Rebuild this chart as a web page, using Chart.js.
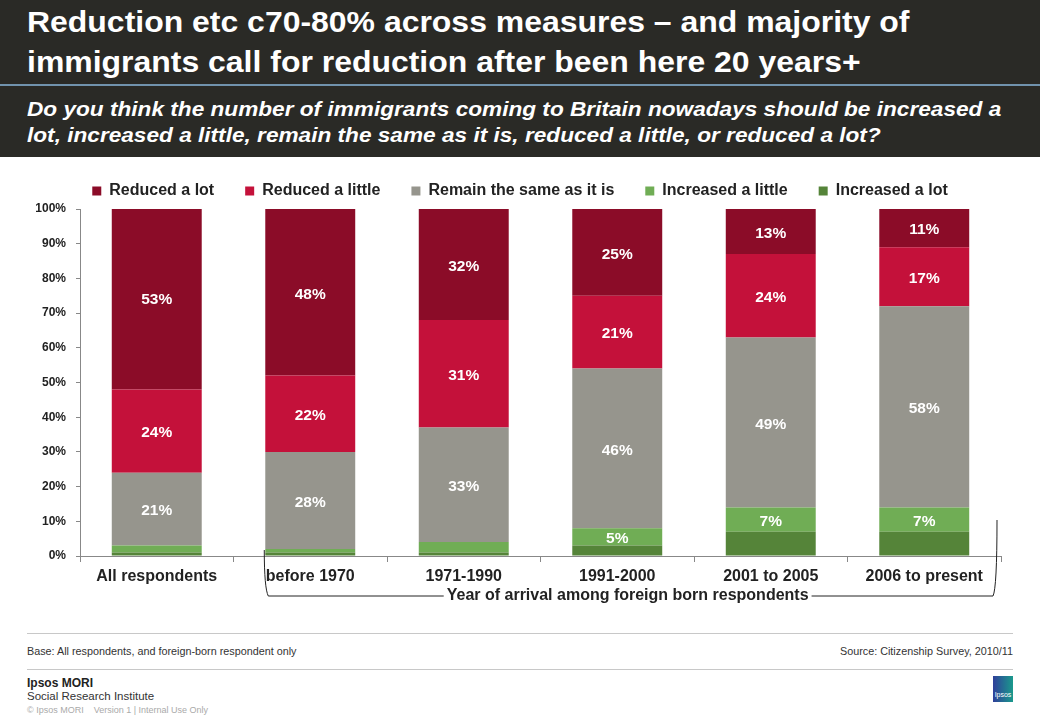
<!DOCTYPE html>
<html>
<head>
<meta charset="utf-8">
<script src="https://cdn.jsdelivr.net/npm/chart.js@4.4.1/dist/chart.umd.min.js"></script>
<style>
  html, body { margin:0; padding:0; background:#fff; }
  body { width:1040px; height:720px; position:relative; overflow:hidden; font-family:'Liberation Sans', Arial, sans-serif; }
  #hdr { position:absolute; left:0; top:0; width:1040px; height:157px; background:#2a2a26; }
  #hline { position:absolute; left:0; top:84px; width:1040px; height:2px; background:#7193ad; }
  #title { position:absolute; left:27px; top:2px; color:#fff; font-weight:bold; font-size:29.5px; line-height:40px; white-space:nowrap; transform:scaleX(1.083); transform-origin:0 0; }
  #sub { position:absolute; left:27px; top:96px; color:#fff; font-weight:bold; font-style:italic; font-size:20.9px; line-height:26px; white-space:nowrap; transform:scaleX(1.083); transform-origin:0 0; }
  #wrap { position:absolute; left:0; top:152px; width:1040px; height:468px; }
  .rule { position:absolute; left:27px; width:986px; height:1px; background:#c8c8c8; }
  #base { position:absolute; left:27px; top:645px; font-size:10.8px; color:#333; }
  #src { position:absolute; right:27px; top:645px; font-size:10.8px; color:#333; }
  #ipsos { position:absolute; left:27px; top:676px; font-size:12px; font-weight:bold; color:#222; }
  #sri { position:absolute; left:27px; top:690px; font-size:11.5px; color:#333; }
  #copy { position:absolute; left:27px; top:705px; font-size:9px; color:#aaa; white-space:pre; }
  #logo { position:absolute; left:993px; top:676px; width:20px; height:26px; background:linear-gradient(90deg,#2f3f9a,#1a9a8c); color:#fff; font-size:7px; text-align:center; line-height:38px; }
</style>
</head>
<body>
<div id="hdr"></div>
<div id="hline"></div>
<div id="title">Reduction etc c70-80% across measures – and majority of<br>immigrants call for reduction after been here 20 years+</div>
<div id="sub">Do you think the number of immigrants coming to Britain nowadays should be increased a<br>lot, increased a little, remain the same as it is, reduced a little, or reduced a lot?</div>
<div id="wrap"><canvas id="c"></canvas></div>
<div class="rule" style="top:633px"></div>
<div id="base">Base: All respondents, and foreign-born respondent only</div>
<div id="src">Source: Citizenship Survey, 2010/11</div>
<div class="rule" style="top:669px"></div>
<div id="ipsos">Ipsos MORI</div>
<div id="sri">Social Research Institute</div>
<div id="copy">© Ipsos MORI    Version 1 | Internal Use Only</div>
<div id="logo">Ipsos</div>
<script>
const categories = ['All respondents', 'before 1970', '1971-1990', '1991-2000', '2001 to 2005', '2006 to present'];
const increasedALot    = [1, 1, 1, 3, 7, 7];
const increasedALittle = [2, 1, 3, 5, 7, 7];
const remainSame       = [21, 28, 33, 46, 49, 58];
const reducedALittle   = [24, 22, 31, 21, 24, 17];
const reducedALot      = [53, 48, 32, 25, 13, 11];
const yTicks = [0, 10, 20, 30, 40, 50, 60, 70, 80, 90, 100];
const groupLabel = 'Year of arrival among foreign born respondents';

const FONT = "'Liberation Sans', Arial, sans-serif";

const valueLabels = {
  id: 'valueLabels',
  afterDatasetsDraw(chart) {
    const ctx = chart.ctx;
    ctx.save();
    ctx.font = 'bold 15.5px ' + FONT;
    ctx.fillStyle = '#ffffff';
    ctx.textAlign = 'center';
    ctx.textBaseline = 'middle';
    chart.data.datasets.forEach((ds, i) => {
      if (ds.noLabel) return;
      const meta = chart.getDatasetMeta(i);
      meta.data.forEach((el, j) => {
        const v = ds.data[j];
        if (v < 5) return;
        const p = el.getProps(['x', 'y', 'base'], true);
        ctx.fillText(v + '%', p.x, (p.y + p.base) / 2 + 2);
      });
    });
    ctx.restore();
  }
};

const bracket = {
  id: 'bracket',
  afterDraw(chart) {
    const ctx = chart.ctx;
    const xs = chart.scales.x;
    const half = xs.getPixelForValue(1) - xs.getPixelForValue(0);
    const barHalf = half * 0.586 / 2;
    const left = xs.getPixelForValue(1) - barHalf - 1;
    const right = xs.right - 4;
    const top = chart.chartArea.bottom - 6;
    const yLine = chart.chartArea.bottom + 40;
    ctx.save();
    ctx.font = 'bold 16px ' + FONT;
    const tw = ctx.measureText(groupLabel).width;
    const cx = (left + right) / 2 - 3;
    ctx.strokeStyle = '#222';
    ctx.lineWidth = 1;
    ctx.beginPath();
    ctx.moveTo(left, top);
    ctx.quadraticCurveTo(left, yLine - 8, left + 4, yLine);
    ctx.lineTo(cx - tw / 2 - 3, yLine);
    ctx.moveTo(cx + tw / 2 + 3, yLine);
    ctx.lineTo(right - 4, yLine);
    ctx.quadraticCurveTo(right, yLine - 8, right, top - 30);
    ctx.stroke();
    ctx.fillStyle = '#222';
    ctx.textAlign = 'center';
    ctx.textBaseline = 'middle';
    ctx.fillText(groupLabel, cx, yLine);
    ctx.restore();
  }
};

new Chart(document.getElementById('c'), {
  type: 'bar',
  data: {
    labels: categories,
    datasets: [
      { label: 'Increased a lot', data: increasedALot, backgroundColor: '#558439', noLabel: true },
      { label: 'Increased a little', data: increasedALittle, backgroundColor: '#70ad55' },
      { label: 'Remain the same as it is', data: remainSame, backgroundColor: '#96958d' },
      { label: 'Reduced a little', data: reducedALittle, backgroundColor: '#c4113a' },
      { label: 'Reduced a lot', data: reducedALot, backgroundColor: '#8b0c28' }
    ]
  },
  options: {
    responsive: true,
    maintainAspectRatio: false,
    animation: false,
    datasets: { bar: { categoryPercentage: 1, barPercentage: 0.586, clip: 0, borderWidth: 0 } },
    layout: { padding: { left: 0, right: 0, top: 0, bottom: 0 } },
    plugins: {
      legend: {
        position: 'top',
        reverse: true,
        labels: {
          boxWidth: 9, boxHeight: 9, padding: 31, color: '#222',
          font: { family: FONT, size: 16, weight: 'bold' }
        }
      },
      tooltip: { enabled: false }
    },
    scales: {
      x: {
        stacked: true,
        grid: { display: true, drawOnChartArea: false, offset: true, tickLength: 6, color: '#888' },
        border: { color: '#888' },
        ticks: { color: '#222', font: { family: FONT, size: 16, weight: 'bold' }, padding: 5, maxRotation: 0 },
        afterFit(s) { s.height = 64; }
      },
      y: {
        stacked: true,
        min: 0, max: 100,
        afterBuildTicks(s) { s.ticks = yTicks.map(v => ({ value: v })); },
        grid: { display: true, drawOnChartArea: false, tickLength: 4, color: '#888' },
        border: { color: '#888' },
        ticks: { color: '#222', font: { family: FONT, size: 12, weight: 'bold' }, padding: 10, callback: v => v + '%' },
        afterFit(s) { s.width = 80; }
      },
      yRight: {
        position: 'right',
        display: true,
        min: 0, max: 100,
        grid: { display: false },
        border: { display: false },
        ticks: { display: false },
        afterFit(s) { s.width = 39; }
      }
    }
  },
  plugins: [valueLabels, bracket]
});
</script>
</body>
</html>
